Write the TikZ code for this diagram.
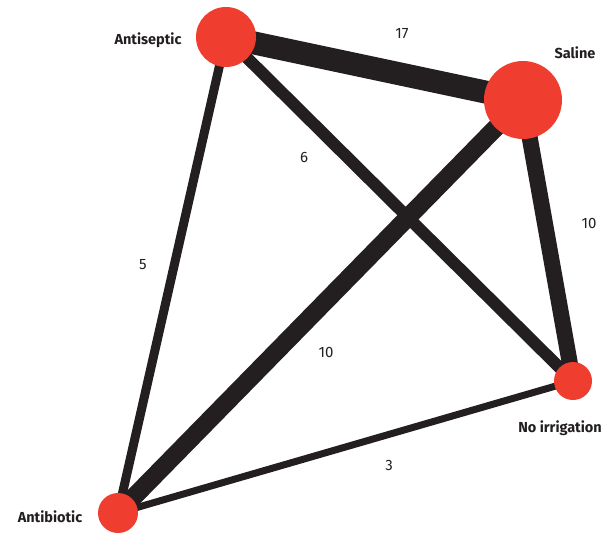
\documentclass[tikz,border=0pt]{standalone}
\usepackage{fontspec}
\setmainfont{Fira Sans}
\usepackage{tikz}
\usetikzlibrary{backgrounds}
\definecolor{nodered}{HTML}{EF3E2F}
\definecolor{edgeblack}{HTML}{231F20}

\begin{document}
\begin{tikzpicture}[
		x=1pt,y=-1pt,
		trt/.style={circle,fill=nodered,inner sep=0pt},
		lnk/.style={draw=edgeblack,line cap=butt},
		trtlabel/.style={font=\fontsize{14.5}{14.5}\selectfont\bfseries,text=edgeblack},
		numlabel/.style={font=\fontsize{15}{15}\selectfont,text=edgeblack}
		]
		\useasboundingbox (0,0) rectangle (611,533);
		% treatments
		\node[trt,minimum size=60pt] (ase) at (226,37) {};
		\node[trt,minimum size=78pt] (sal) at (523,100) {};
		\node[trt,minimum size=38pt] (noi) at (573,381) {};
		\node[trt,minimum size=40pt] (abx) at (118,513) {};
		\node[trtlabel] (aselab) at (148,40) {Antiseptic};
		\node[trtlabel] (sallab) at (575,53) {Saline};
		\node[trtlabel] (noilab) at (560,428) {No irrigation};
		\node[trtlabel] (abxlab) at (50,517) {Antibiotic};
		% comparisons
		\begin{scope}[on background layer]
			\draw[lnk,line width=23pt] (ase.center) -- (sal.center);
			\draw[lnk,line width=18pt] (sal.center) -- (abx.center);
			\draw[lnk,line width=16pt] (sal.center) -- (noi.center);
			\draw[lnk,line width=12pt] (ase.center) -- (noi.center);
			\draw[lnk,line width=9pt] (ase.center) -- (abx.center);
			\draw[lnk,line width=7pt] (abx.center) -- (noi.center);
		\end{scope}
		\node[numlabel] (n17) at (402,34) {17};
		\node[numlabel] (n6) at (304,157) {6};
		\node[numlabel] (n10a) at (589,223) {10};
		\node[numlabel] (n5) at (143,265) {5};
		\node[numlabel] (n10b) at (326,352) {10};
		\node[numlabel] (n3) at (389,465) {3};
	\end{tikzpicture}
\end{document}
